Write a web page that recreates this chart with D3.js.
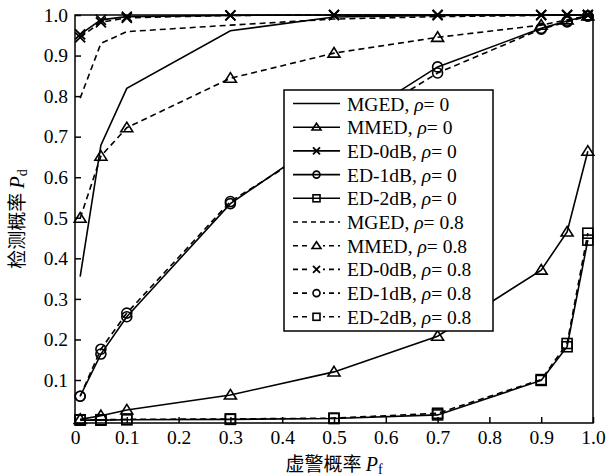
<!DOCTYPE html>
<html><head><meta charset="utf-8">
<script src="https://cdn.jsdelivr.net/npm/d3@7"></script>
<style>
body{margin:0;background:#fff;}
svg{display:block;}
svg text{font-family:"Liberation Serif","Times New Roman",Times,"DejaVu Serif",serif;fill:#000;}
</style></head>
<body><svg id="c" width="616" height="476"></svg>
<script>
const pf = [0.01,0.05,0.1,0.3,0.5,0.7,0.9,0.95,0.99];
const mged0 = [0.355,0.679,0.819,0.961,0.995,0.999,1.0,1.0,1.0];
const mmed0 = [0.003,0.012,0.026,0.063,0.12,0.208,0.371,0.465,0.664];
const ed0_0 = [0.952,0.988,0.996,0.999,1,1,1,1,1];
const ed1_0 = [0.06,0.164,0.256,0.535,0.71,0.872,0.967,0.985,0.998];
const ed2_0 = [0.001,0.001,0.002,0.003,0.005,0.014,0.099,0.182,0.445];
const mged8 = [0.795,0.93,0.959,0.975,0.99,0.996,0.999,1,1];
const mmed8 = [0.499,0.652,0.722,0.844,0.906,0.945,0.975,0.988,0.998];
const ed0_8 = [0.945,0.982,0.993,0.999,1,1,1,1,1];
const ed1_8 = [0.06,0.176,0.265,0.54,0.70,0.857,0.965,0.983,0.997];
const ed2_8 = [0.002,0.002,0.003,0.004,0.006,0.018,0.101,0.19,0.462];
const names = ["MGED","MMED","ED-0dB","ED-1dB","ED-2dB"];
const rhos = ["0","0.8"];
const xTicks = [0,0.1,0.2,0.3,0.4,0.5,0.6,0.7,0.8,0.9,1.0];
const yTicks = [0.1,0.2,0.3,0.4,0.5,0.6,0.7,0.8,0.9,1.0];
const xLabel = "虚警概率";
const yLabel = "检测概率";

const series = [
  {name:names[0], rho:rhos[0], v:mged0, m:"none", dash:false},
  {name:names[1], rho:rhos[0], v:mmed0, m:"tri", dash:false},
  {name:names[2], rho:rhos[0], v:ed0_0, m:"x", dash:false},
  {name:names[3], rho:rhos[0], v:ed1_0, m:"circle", dash:false},
  {name:names[4], rho:rhos[0], v:ed2_0, m:"square", dash:false},
  {name:names[0], rho:rhos[1], v:mged8, m:"none", dash:true},
  {name:names[1], rho:rhos[1], v:mmed8, m:"tri", dash:true},
  {name:names[2], rho:rhos[1], v:ed0_8, m:"x", dash:true},
  {name:names[3], rho:rhos[1], v:ed1_8, m:"circle", dash:true},
  {name:names[4], rho:rhos[1], v:ed2_8, m:"square", dash:true}
];

const SERIF = '"Liberation Serif","Times New Roman",Times,"DejaVu Serif",serif';
const svg = d3.select("#c");
const L=75, R=593, T=15, B=423;
const x = d3.scaleLinear().domain([0,1]).range([L,R]);
const y = d3.scaleLinear().domain([-0.006,1]).range([B,T]);

function marker(g, type, cx, cy, s){
  if(type==="tri"){
    const h=s*0.9;
    g.append("path").attr("d",`M${cx},${cy-h*0.62}L${cx+s/2+1},${cy+h*0.45}L${cx-s/2-1},${cy+h*0.45}Z`)
     .attr("fill","none").attr("stroke","#000").attr("stroke-width",1.6);
  } else if(type==="circle"){
    g.append("circle").attr("cx",cx).attr("cy",cy).attr("r",s/2)
     .attr("fill","none").attr("stroke","#000").attr("stroke-width",1.6);
  } else if(type==="square"){
    g.append("rect").attr("x",cx-s/2).attr("y",cy-s/2).attr("width",s).attr("height",s)
     .attr("fill","none").attr("stroke","#000").attr("stroke-width",1.6);
  } else if(type==="x"){
    const a=s/2;
    g.append("path").attr("d",`M${cx-a},${cy-a}L${cx+a},${cy+a}M${cx-a},${cy+a}L${cx+a},${cy-a}`)
     .attr("fill","none").attr("stroke","#000").attr("stroke-width",1.8);
  }
}

const plot = svg.append("g");
const line = d3.line().x((d,i)=>x(pf[i])).y(d=>y(d));
series.forEach(s=>{
  plot.append("path").datum(s.v).attr("d",line)
    .attr("fill","none").attr("stroke","#000").attr("stroke-width",1.6)
    .attr("stroke-dasharray", s.dash ? "6,4" : null);
  if(s.m!=="none"){
    s.v.forEach((v,i)=>marker(plot, s.m, x(pf[i]), y(v), 10));
  }
});

// box
svg.append("rect").attr("x",L).attr("y",T).attr("width",R-L).attr("height",B-T)
  .attr("fill","none").attr("stroke","#000").attr("stroke-width",1.5);

// axes
const xAxis = d3.axisBottom(x).tickValues(xTicks).tickSizeInner(-6).tickSizeOuter(0).tickPadding(7)
  .tickFormat(d=> d===0 ? "0" : d3.format(".1f")(d));
const gx = svg.append("g").attr("transform",`translate(0,${B})`).call(xAxis);
gx.attr("font-family",null).attr("font-size",null);
gx.select(".domain").remove();
gx.selectAll("line").attr("stroke","#000").attr("stroke-width",1.5);
gx.selectAll("text").attr("font-family",SERIF).attr("font-size",19.5).attr("fill","#000");

const yAxis = d3.axisLeft(y).tickValues(yTicks).tickSizeInner(-6).tickSizeOuter(0).tickPadding(7)
  .tickFormat(d3.format(".1f"));
const gy = svg.append("g").attr("transform",`translate(${L},0)`).call(yAxis);
gy.attr("font-family",null).attr("font-size",null);
gy.select(".domain").remove();
gy.selectAll("line").attr("stroke","#000").attr("stroke-width",1.5);
gy.selectAll("text").attr("font-family",SERIF).attr("font-size",19.5).attr("fill","#000");

// axis labels
const xl = svg.append("text").attr("x",334).attr("y",471).attr("text-anchor","middle").attr("font-size",19);
xl.append("tspan").text(xLabel+" ").style("font-family","'Noto Sans CJK SC'");
xl.append("tspan").text("P").style("font-style","italic").style("font-size","20px");
xl.append("tspan").text("f").attr("dy",3).style("font-size","14px");

const yl = svg.append("text").attr("transform",`translate(24,${(T+B)/2}) rotate(-90)`).attr("text-anchor","middle").attr("font-size",19);
yl.append("tspan").text(yLabel+" ").style("font-family","'Noto Sans CJK SC'");
yl.append("tspan").text("P").style("font-style","italic").style("font-size","20px");
yl.append("tspan").text("d").attr("dy",3).style("font-size","14px");

// legend
const lg = svg.append("g");
const lx0=284, ly0=90, lw=209, lh=241;
lg.append("rect").attr("x",lx0).attr("y",ly0).attr("width",lw).attr("height",lh)
  .attr("fill","#fff").attr("stroke","#000").attr("stroke-width",1.5);
series.forEach((s,i)=>{
  const cy = 103.5 + i*23.7;
  lg.append("line").attr("x1",293).attr("x2",340).attr("y1",cy).attr("y2",cy)
    .attr("stroke","#000").attr("stroke-width",1.6)
    .attr("stroke-dasharray", s.dash ? "5,4" : null);
  if(s.m!=="none"){
    lg.append("rect").attr("x",311).attr("y",cy-5).attr("width",12).attr("height",10).attr("fill", s.dash ? "#fff" : "none");
    marker(lg, s.m, 316.5, cy, 7);
  }
  const t = lg.append("text").attr("x",347).attr("y",cy+7).attr("font-size",19.5);
  t.append("tspan").text(s.name+", ");
  t.append("tspan").text("ρ").style("font-style","italic");
  t.append("tspan").text("= "+s.rho);
});
</script></body></html>
